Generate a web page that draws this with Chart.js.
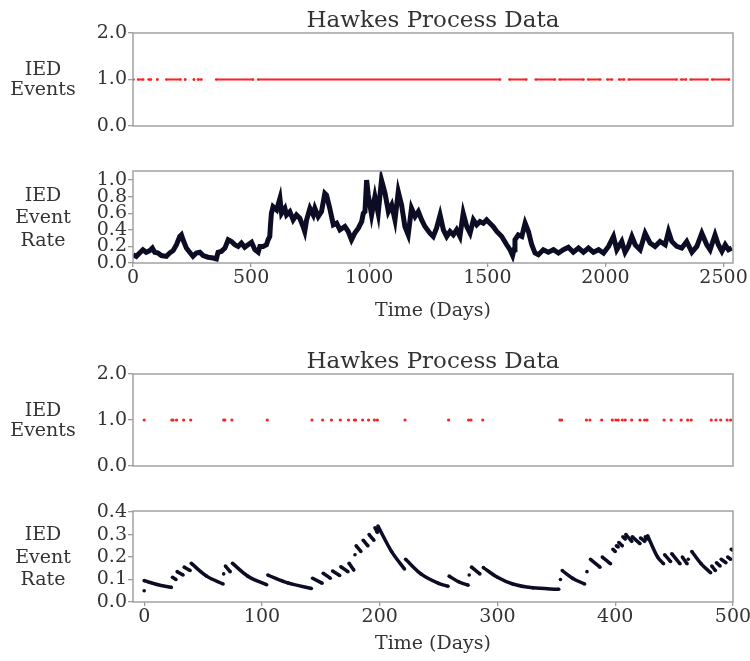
<!DOCTYPE html>
<html>
<head>
<meta charset="utf-8">
<script src="https://cdn.jsdelivr.net/npm/chart.js@4.4.1/dist/chart.umd.min.js"></script>
<style>
    body { margin: 0; background: #fff; width: 750px; height: 661px; position: relative; overflow: hidden; }
    canvas { position: absolute; left: 0; }
</style>
</head>
<body>
<canvas id="eventsLong" width="750" height="140" style="top:0px"></canvas>
<canvas id="rateLong" width="750" height="200" style="top:140px"></canvas>
<canvas id="eventsShort" width="750" height="140" style="top:340px"></canvas>
<canvas id="rateShort" width="750" height="181" style="top:480px"></canvas>
<script>
// Tick labels
const eventTicks = [0, 1, 2];
const longRateTicks = [0, 0.2, 0.4, 0.6, 0.8, 1.0];
const shortRateTicks = [0, 0.1, 0.2, 0.3, 0.4];
const longDayTicks = [0, 500, 1000, 1500, 2000, 2500];
const shortDayTicks = [0, 100, 200, 300, 400, 500];

// Top panel: stretches of days with IED events (start, end)
const longEventStart = [1, 22, 66, 103, 141, 221, 258, 275, 352, 530, 1594, 1705, 1806, 1927, 2008, 2058, 2099, 2321, 2361, 2452];
const longEventEnd   = [1, 43, 76, 103, 201, 221, 258, 290, 508, 1554, 1665, 1786, 1907, 1978, 2028, 2079, 2301, 2341, 2432, 2523];

// Second panel: event rate over 2500 days
const longRateDays = [0, 14, 28, 42, 56, 71, 82, 92, 106, 120, 141, 155, 170, 184, 198, 205, 212, 226, 240, 254,
    268, 283, 297, 318, 339, 353, 360, 374, 389, 403, 417, 431, 445, 459, 473, 487, 502, 516, 530, 537,
    551, 565, 572, 579, 582, 586, 593, 608, 622, 629, 643, 650, 664, 678, 692, 706, 720, 727, 735, 749,
    763, 770, 784, 798, 812, 819, 833, 848, 862, 876, 897, 911, 925, 939, 954, 968, 975, 982, 989, 996,
    1010, 1024, 1038, 1052, 1067, 1081, 1095, 1109, 1123, 1137, 1151, 1165, 1179, 1194, 1208, 1222, 1236, 1257, 1271, 1285,
    1300, 1314, 1328, 1342, 1356, 1370, 1384, 1398, 1413, 1427, 1441, 1455, 1469, 1483, 1497, 1511, 1525, 1540, 1561, 1582,
    1596, 1607, 1613, 1617, 1631, 1646, 1660, 1674, 1688, 1702, 1716, 1737, 1758, 1780, 1801, 1822, 1843, 1864, 1886, 1907,
    1928, 1949, 1971, 1992, 2013, 2034, 2048, 2069, 2083, 2097, 2112, 2126, 2147, 2168, 2189, 2210, 2231, 2253, 2267, 2281,
    2302, 2323, 2344, 2366, 2387, 2408, 2429, 2443, 2464, 2478, 2493, 2507, 2521, 2535];
const longRateVals = [0.1, 0.08, 0.12, 0.16, 0.13, 0.15, 0.18, 0.13, 0.12, 0.09, 0.08, 0.12, 0.15, 0.22, 0.32, 0.34, 0.28, 0.18, 0.13, 0.08,
    0.12, 0.13, 0.09, 0.07, 0.06, 0.05, 0.13, 0.14, 0.18, 0.28, 0.26, 0.22, 0.2, 0.24, 0.19, 0.22, 0.25, 0.16, 0.13, 0.2,
    0.2, 0.22, 0.28, 0.32, 0.46, 0.6, 0.68, 0.64, 0.78, 0.6, 0.66, 0.58, 0.62, 0.52, 0.58, 0.54, 0.44, 0.38, 0.52, 0.66,
    0.58, 0.66, 0.56, 0.62, 0.84, 0.82, 0.66, 0.46, 0.48, 0.4, 0.44, 0.38, 0.28, 0.36, 0.42, 0.5, 0.6, 0.62, 1.0, 0.82,
    0.58, 0.8, 0.6, 1.0, 0.84, 0.62, 0.7, 0.52, 0.86, 0.7, 0.44, 0.34, 0.66, 0.56, 0.62, 0.52, 0.44, 0.36, 0.32, 0.42,
    0.58, 0.4, 0.32, 0.38, 0.34, 0.4, 0.32, 0.6, 0.44, 0.36, 0.52, 0.46, 0.5, 0.48, 0.52, 0.48, 0.44, 0.38, 0.32, 0.22,
    0.16, 0.09, 0.16, 0.28, 0.34, 0.32, 0.48, 0.38, 0.22, 0.12, 0.1, 0.16, 0.13, 0.16, 0.12, 0.16, 0.19, 0.13, 0.18, 0.13,
    0.18, 0.13, 0.16, 0.12, 0.2, 0.32, 0.16, 0.26, 0.13, 0.2, 0.32, 0.22, 0.16, 0.36, 0.24, 0.2, 0.26, 0.22, 0.38, 0.26,
    0.2, 0.18, 0.26, 0.13, 0.2, 0.36, 0.22, 0.16, 0.34, 0.22, 0.14, 0.22, 0.16, 0.18];

// Third panel: individual event days in the first 500 days
const shortEventDays = [0, 23.5, 24.5, 27.5, 33.5, 39.5, 67.5, 68.5, 74.5, 104.5, 142.5, 151.5, 159, 166.5, 173.5,
    178.5, 179.5, 185.5, 190.5, 195.5, 198, 221.5, 258.5, 275.5, 277.5, 287.5, 353, 354.5, 375.5, 378.5,
    388.5, 397.5, 400.5, 402.5, 406, 408.5, 414, 421, 425, 427, 441.5, 447.5, 456, 461.5, 464.5,
    481.5, 485.5, 489.5, 495, 498];

// Bottom panel: event rate, null marks a jump (break in the line)
const shortRateDays = [0, null, 0, 11, 23, null, 24, 27, null, 28, 33, null, 34, 39, null, 40, 53, 67, null,
    67.5, null, 69, 73, null, 75, 88, 104, null, 105, 122, 142, null, 143, 151, null, 152, 158, null,
    160, 166, null, 167, 173, null, 174, 178, null, 179, null, 180, 184, null, 186, 190, null, 191, 195, null,
    196, 198, null, 198.5, 210, 221, null, 222, 235, 250, 258, null, 259, 267, 275, null, 276, null,
    278, 285, null, 288, 300, 313, 330, 352, null, 353.5, null, 355, 364, 374, null, 376, null,
    379, 387, null, 389, 396, null, 398, 400, null, 401, 402.5, null, 403, 406, null, 406.5, 408.5, null,
    409, 414, null, 414.5, 421, null, 421.5, 425, null, 425.5, 427, null, 427.5, 436, 441, null,
    442, 447, null, 448, 455, null, 457, 461, null, 462, null, 465, 473, 481, null,
    482, 485, null, 486, 489, null, 490, 494, null, 495.5, 498, null, 498.5, 500];
const shortRateVals = [0.05, null, 0.095, 0.078, 0.065, null, 0.11, 0.1, null, 0.135, 0.12, null, 0.155, 0.14, null, 0.172, 0.115, 0.08, null,
    0.125, null, 0.16, 0.135, null, 0.172, 0.115, 0.077, null, 0.12, 0.085, 0.06, null, 0.106, 0.084, null, 0.128, 0.106, null,
    0.138, 0.118, null, 0.157, 0.135, null, 0.172, 0.142, null, 0.21, null, 0.25, 0.225, null, 0.275, 0.25, null, 0.3, 0.275, null,
    0.33, 0.31, null, 0.338, 0.225, 0.147, null, 0.19, 0.125, 0.083, 0.07, null, 0.115, 0.09, 0.075, null, 0.12, null,
    0.155, 0.125, null, 0.153, 0.11, 0.08, 0.063, 0.057, null, 0.1, null, 0.14, 0.105, 0.08, null, 0.135, null,
    0.19, 0.155, null, 0.2, 0.17, null, 0.235, 0.225, null, 0.25, 0.245, null, 0.265, 0.25, null, 0.29, 0.28, null,
    0.3, 0.27, null, 0.29, 0.26, null, 0.285, 0.27, null, 0.29, 0.28, null, 0.295, 0.2, 0.17, null,
    0.21, 0.18, null, 0.215, 0.17, null, 0.2, 0.17, null, 0.19, null, 0.225, 0.17, 0.13, null,
    0.16, 0.14, null, 0.175, 0.16, null, 0.19, 0.175, null, 0.2, 0.19, null, 0.235, 0.23];

const textColor = '#333333';
const axisGray = '#9c9c9c';
const eventRed = '#ff1f1f';
const rateColor = '#0c0c24';
const serif = '"DejaVu Serif", serif';

// Build {x, y} points, nulls become gaps
function toPoints(days, vals) {
    const pts = [];
    let lastX = 0;
    days.forEach((d, i) => {
        if (d === null) {
            pts.push({ x: lastX, y: null });
        } else {
            lastX = d;
            pts.push({ x: d, y: vals[i] });
        }
    });
    return pts;
}

function segmentPoints(starts, ends) {
    const pts = [];
    starts.forEach((s, i) => {
        pts.push({ x: s, y: 1 }, { x: ends[i], y: 1 }, { x: ends[i], y: null });
    });
    return pts;
}

// Draws the frame, title, y label and x label of one panel
function panelText(opts) {
    return {
        id: 'panelText',
        afterDraw(chart) {
            const { ctx, chartArea: a } = chart;
            ctx.save();
            ctx.strokeStyle = axisGray;
            ctx.lineWidth = 1.4;
            ctx.strokeRect(a.left, a.top, a.right - a.left, a.bottom - a.top);
            ctx.fillStyle = textColor;
            ctx.textAlign = 'center';
            ctx.textBaseline = 'alphabetic';
            const cx = (a.left + a.right) / 2;
            if (opts.title) {
                ctx.font = '23px ' + serif;
                ctx.fillText(opts.title, cx, a.top - 6);
            }
            ctx.font = '19px ' + serif;
            const mid = (a.top + a.bottom) / 2;
            const offs = opts.ylabel.length === 2 ? [-4.5, 15.5] : [-16.5, 6, 28.5];
            opts.ylabel.forEach((line, i) => ctx.fillText(line, 43, mid + offs[i]));
            if (opts.xlabel) ctx.fillText(opts.xlabel, cx, a.bottom + opts.xlabelGap);
            ctx.restore();
        }
    };
}

function fixedTicks(values) {
    return scale => { scale.ticks = values.map(v => ({ value: v })); };
}

function makePanel(id, cfg) {
    const tickFont = { family: serif, size: 19 };
    const grid = { display: true, drawOnChartArea: false, drawTicks: true, tickLength: 5, color: axisGray, lineWidth: 1.3 };
    new Chart(document.getElementById(id), {
        type: 'line',
        data: { datasets: cfg.datasets },
        options: {
            responsive: false,
            animation: false,
            devicePixelRatio: 1,
            layout: { padding: { left: 0, right: 17, top: cfg.padTop, bottom: cfg.padBottom } },
            plugins: { legend: { display: false }, tooltip: { enabled: false } },
            scales: {
                x: {
                    type: 'linear',
                    min: cfg.xMin,
                    max: cfg.xMax,
                    display: cfg.xTicks !== null,
                    afterBuildTicks: cfg.xTicks ? fixedTicks(cfg.xTicks) : undefined,
                    afterFit: scale => {
                        scale.height = cfg.xHeight || 0;
                        scale.paddingLeft = 0;
                        scale.paddingRight = 0;
                    },
                    grid: Object.assign({}, grid, { tickLength: 4 }),
                    border: { display: false },
                    ticks: { font: tickFont, color: textColor, padding: 0, maxRotation: 0, autoSkip: false, callback: v => String(v) }
                },
                y: {
                    min: cfg.yMin,
                    max: cfg.yMax,
                    afterBuildTicks: fixedTicks(cfg.yTicks),
                    afterFit: scale => {
                        scale.width = 133;
                        scale.paddingTop = 0;
                        scale.paddingBottom = 0;
                    },
                    grid: grid,
                    border: { display: false },
                    ticks: { font: tickFont, color: textColor, padding: 1, autoSkip: false, callback: v => v.toFixed(1) }
                }
            }
        },
        plugins: [panelText(cfg.text)]
    });
}

makePanel('eventsLong', {
    padTop: 33, padBottom: 14,
    xMin: 0, xMax: 2540, xTicks: null,
    yMin: 0, yMax: 2, yTicks: eventTicks,
    text: { title: 'Hawkes Process Data', ylabel: ['IED', 'Events'] },
    datasets: [{
        data: segmentPoints(longEventStart, longEventEnd),
        borderColor: eventRed, backgroundColor: eventRed,
        borderWidth: 2.2, pointRadius: 1.3, pointBorderWidth: 0, spanGaps: false
    }]
});

makePanel('rateLong', {
    padTop: 31, padBottom: 0,
    xMin: 0, xMax: 2540, xTicks: longDayTicks, xHeight: 77,
    yMin: 0, yMax: 1.11, yTicks: longRateTicks,
    text: { ylabel: ['IED', 'Event', 'Rate'], xlabel: 'Time (Days)', xlabelGap: 53 },
    datasets: [{
        data: toPoints(longRateDays, longRateVals),
        borderColor: rateColor, borderWidth: 5, pointRadius: 0, tension: 0
    }]
});

makePanel('eventsShort', {
    padTop: 34, padBottom: 14,
    xMin: -9.5, xMax: 500, xTicks: null,
    yMin: 0, yMax: 2, yTicks: eventTicks,
    text: { title: 'Hawkes Process Data', ylabel: ['IED', 'Events'] },
    datasets: [{
        data: shortEventDays.map(d => ({ x: d, y: 1 })),
        showLine: false,
        backgroundColor: eventRed, pointRadius: 1.6, pointBorderWidth: 0
    }]
});

makePanel('rateShort', {
    padTop: 31, padBottom: 0,
    xMin: -9.5, xMax: 500, xTicks: shortDayTicks, xHeight: 59,
    yMin: 0, yMax: 0.405, yTicks: shortRateTicks,
    text: { ylabel: ['IED', 'Event', 'Rate'], xlabel: 'Time (Days)', xlabelGap: 47 },
    datasets: [{
        data: toPoints(shortRateDays, shortRateVals),
        borderColor: rateColor, backgroundColor: rateColor,
        borderWidth: 3.5, pointRadius: 1.8, pointBorderWidth: 0,
        cubicInterpolationMode: 'monotone', spanGaps: false
    }]
});
</script>
</body>
</html>
